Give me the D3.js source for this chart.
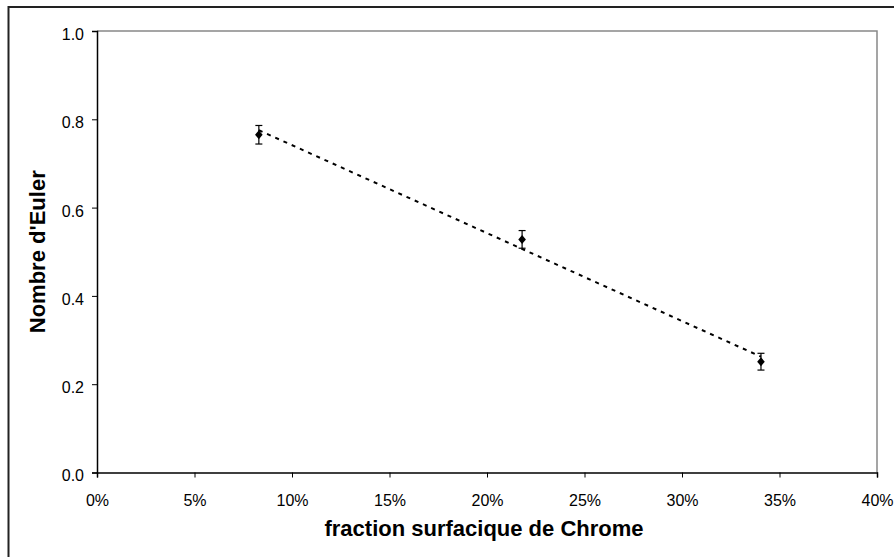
<!DOCTYPE html>
<html>
<head>
<meta charset="utf-8">
<script src="https://cdn.jsdelivr.net/npm/d3@7"></script>
<style>
  html, body { margin: 0; padding: 0; background: #fff; }
  svg { display: block; font-family: "Liberation Sans", Arial, sans-serif; }
</style>
</head>
<body>
<svg id="chart" width="894" height="557"></svg>
<script>
// Surface fraction of chromium (x) and Euler number (y), with error bars
const fractions = [0.083, 0.218, 0.3405];
const eulerValues = [0.765, 0.528, 0.251];
const eulerErrors = [0.021, 0.020, 0.019];
const xTicks = [0, 0.05, 0.10, 0.15, 0.20, 0.25, 0.30, 0.35, 0.40];
const yTicks = [0, 0.2, 0.4, 0.6, 0.8, 1.0];
const xTitle = "fraction surfacique de Chrome";
const yTitle = "Nombre d'Euler";

const svg = d3.select("#chart");
const W = 894, H = 557;
const plot = { left: 97, top: 31, right: 877, bottom: 472.5 };

const x = d3.scaleLinear().domain([0, 0.40]).range([plot.left, plot.right]);
const y = d3.scaleLinear().domain([0, 1.0]).range([plot.bottom, plot.top]);

// Outer chart frame (runs off the right and bottom edges)
svg.append("rect")
  .attr("x", 8.5).attr("y", 7)
  .attr("width", W + 10).attr("height", H + 10)
  .attr("fill", "#fff").attr("stroke", "#222").attr("stroke-width", 2);

// Plot area outline: top and right in grey
svg.append("path")
  .attr("d", `M${plot.left},${plot.top}H${plot.right}V${plot.bottom}`)
  .attr("fill", "none").attr("stroke", "#888").attr("stroke-width", 1.5);

// Axes
const xAxis = d3.axisBottom(x).tickValues(xTicks).tickSize(5).tickPadding(17.5)
  .tickFormat(d3.format(".0%"));
const yAxis = d3.axisLeft(y).tickValues(yTicks).tickSize(5).tickPadding(8)
  .tickFormat(d3.format(".1f"));

const gx = svg.append("g").attr("transform", `translate(0,${plot.bottom})`).call(xAxis);
const gy = svg.append("g").attr("transform", `translate(${plot.left},0)`).call(yAxis);
[gx, gy].forEach(g => {
  g.select(".domain").attr("stroke", "#000").attr("stroke-width", 1.5);
  g.selectAll(".tick line").attr("stroke", "#000").attr("stroke-width", 1);
  g.selectAll(".tick text").attr("fill", "#000").attr("font-size", 16)
    .attr("font-family", "Liberation Sans, Arial, sans-serif");
});
gy.selectAll(".tick text").attr("dy", "0.53em");

// Linear least-squares trend line over the data range
const n = fractions.length;
const mx = d3.mean(fractions), my = d3.mean(eulerValues);
let sxy = 0, sxx = 0;
for (let i = 0; i < n; i++) {
  sxy += (fractions[i] - mx) * (eulerValues[i] - my);
  sxx += (fractions[i] - mx) ** 2;
}
const slope = sxy / sxx, intercept = my - slope * mx;
const [x0, x1] = d3.extent(fractions);
svg.append("line")
  .attr("x1", x(x0)).attr("y1", y(intercept + slope * x0))
  .attr("x2", x(x1)).attr("y2", y(intercept + slope * x1))
  .attr("stroke", "#000").attr("stroke-width", 2)
  .attr("stroke-dasharray", "4,5");

// Error bars
const pts = fractions.map((f, i) => ({ f, v: eulerValues[i], e: eulerErrors[i] }));
const eb = svg.append("g").attr("stroke", "#000").attr("stroke-width", 1.2);
pts.forEach(p => {
  const cx = x(p.f);
  eb.append("line").attr("x1", cx).attr("x2", cx).attr("y1", y(p.v + p.e)).attr("y2", y(p.v - p.e));
  eb.append("line").attr("x1", cx - 3.5).attr("x2", cx + 3.5).attr("y1", y(p.v + p.e)).attr("y2", y(p.v + p.e));
  eb.append("line").attr("x1", cx - 3.5).attr("x2", cx + 3.5).attr("y1", y(p.v - p.e)).attr("y2", y(p.v - p.e));
});

// Diamond markers
svg.append("g").selectAll("path").data(pts).join("path")
  .attr("transform", d => `translate(${x(d.f)},${y(d.v)})`)
  .attr("d", "M0,-4.5L3.8,0L0,4.5L-3.8,0Z")
  .attr("fill", "#000");

// Axis titles
svg.append("text")
  .attr("x", (plot.left + plot.right) / 2 - 3).attr("y", 536)
  .attr("text-anchor", "middle").attr("font-size", 22).attr("font-weight", "bold")
  .text(xTitle);
svg.append("text")
  .attr("transform", `translate(45,${(plot.top + plot.bottom) / 2}) rotate(-90)`)
  .attr("text-anchor", "middle").attr("font-size", 22).attr("font-weight", "bold")
  .text(yTitle);
</script>
</body>
</html>
